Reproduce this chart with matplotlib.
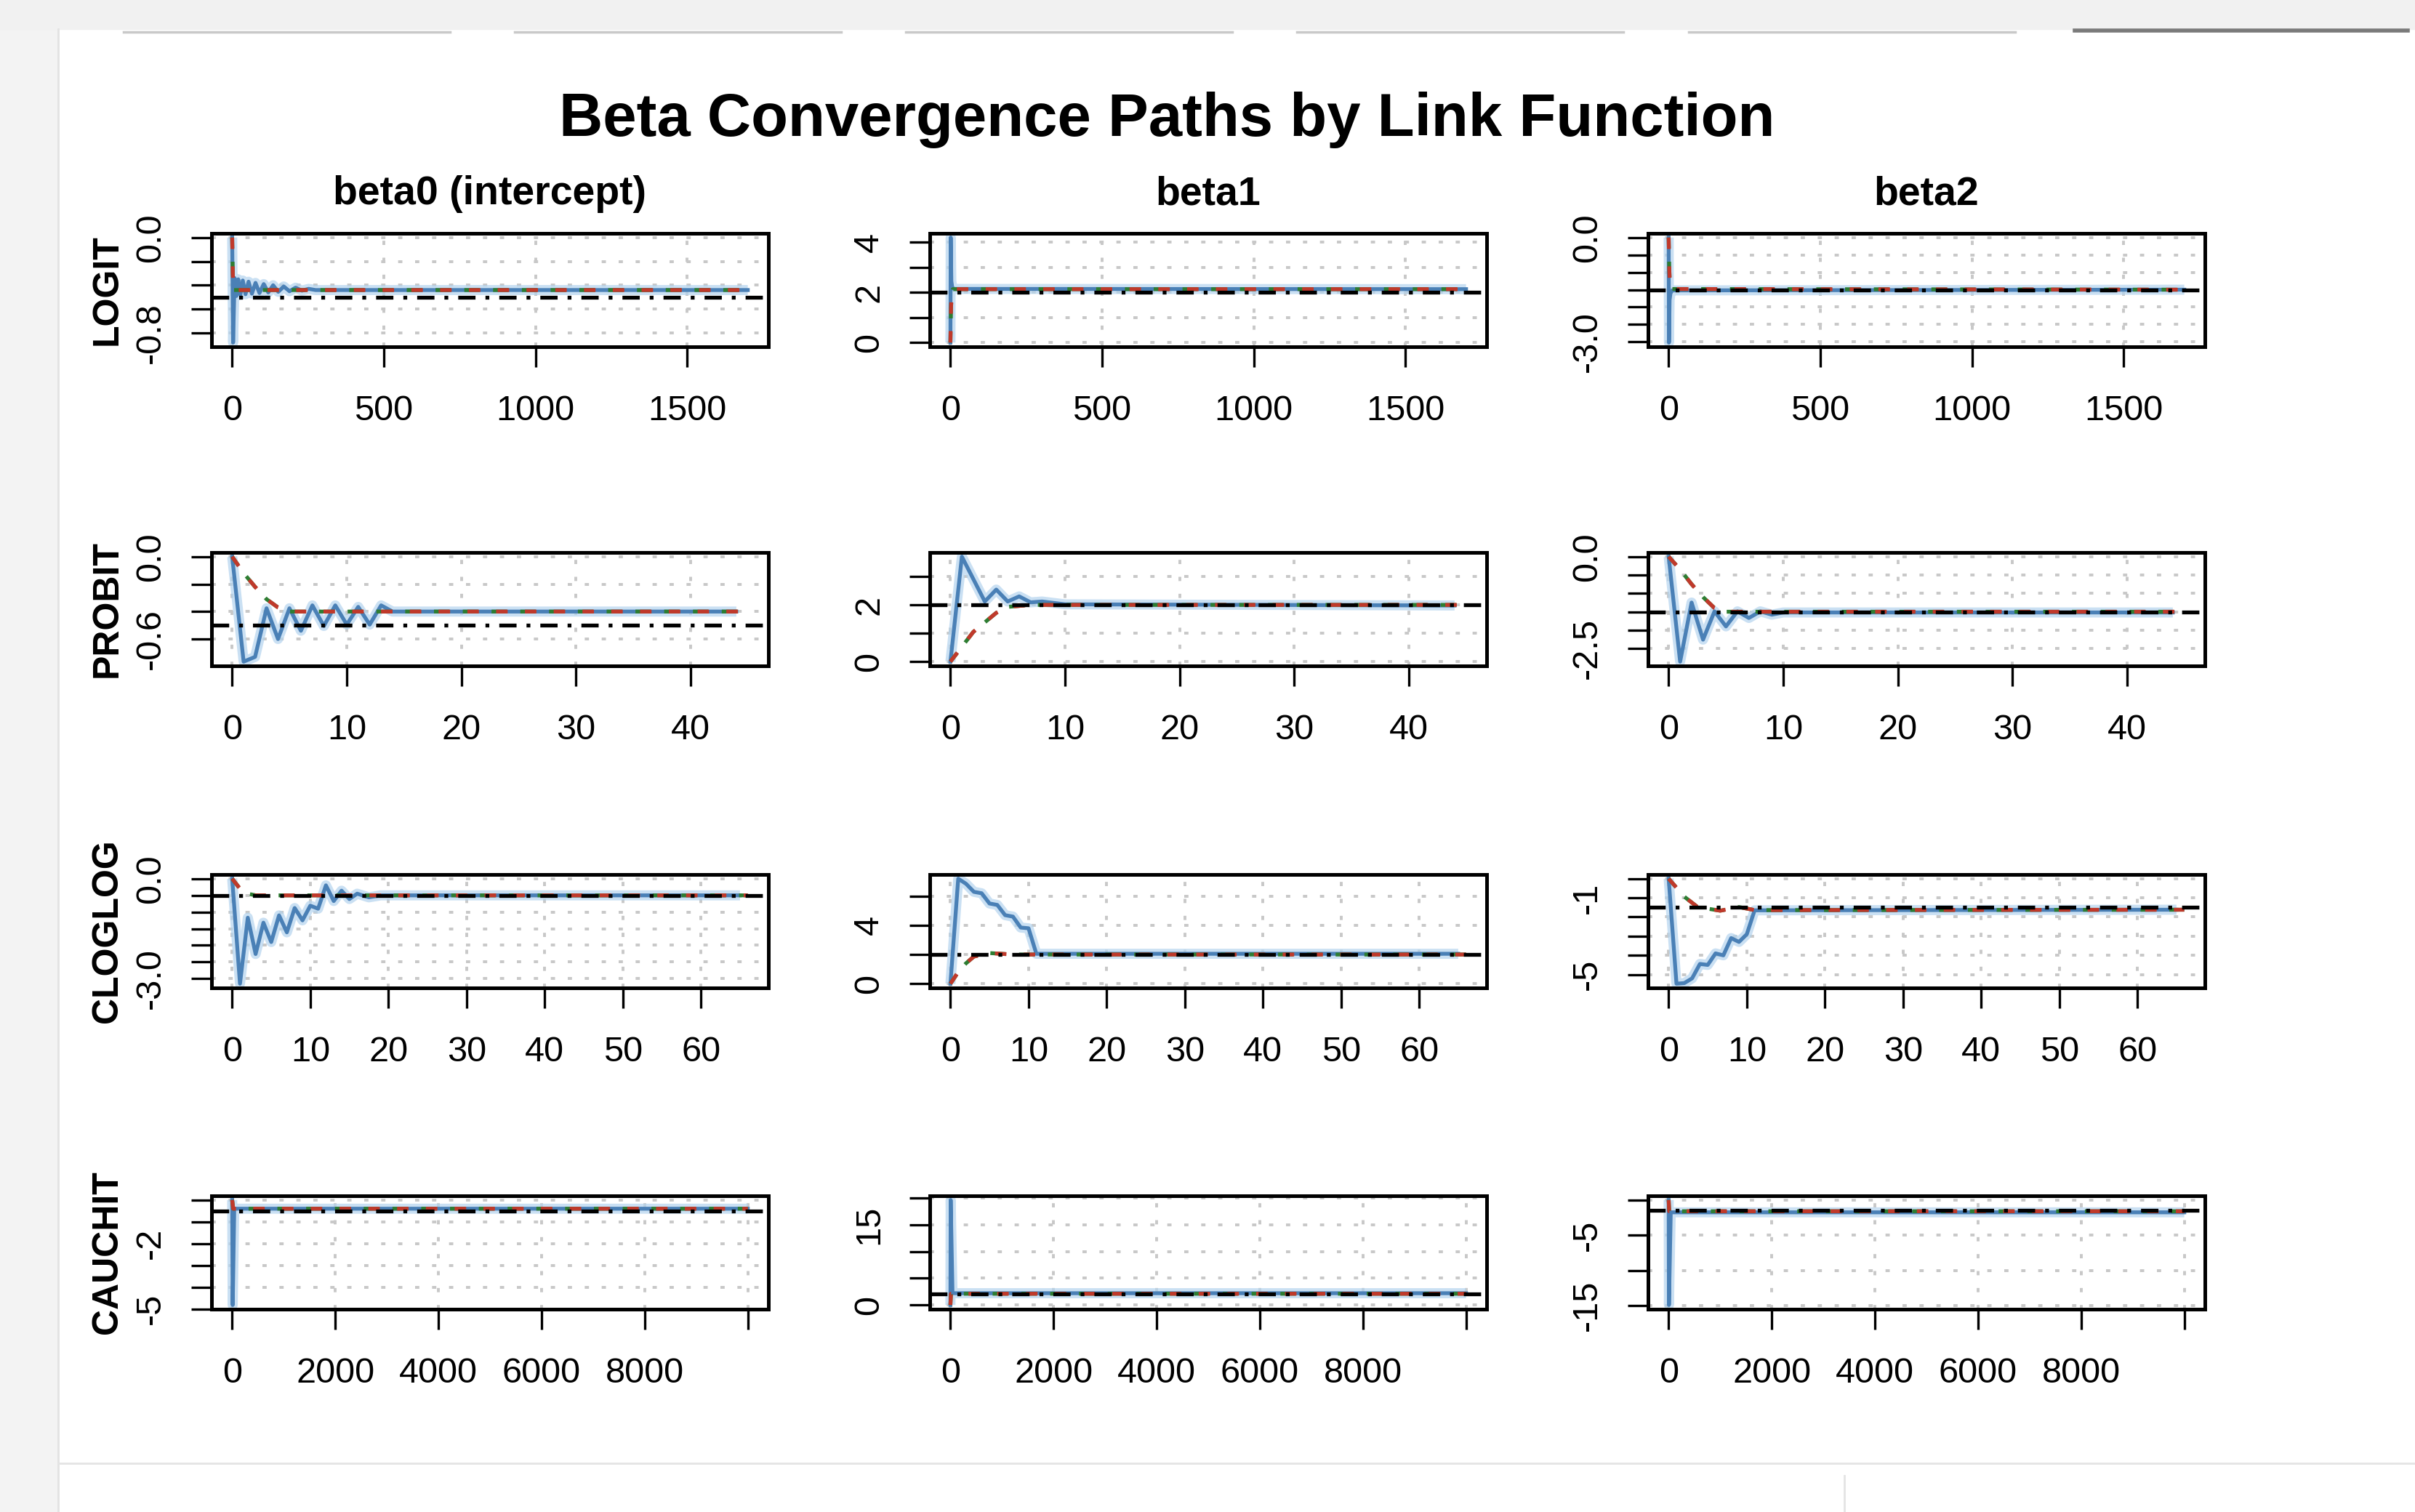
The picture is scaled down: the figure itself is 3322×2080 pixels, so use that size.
import matplotlib
matplotlib.use("Agg")
import matplotlib.pyplot as plt
from matplotlib.lines import Line2D
from matplotlib.patches import Rectangle

plt.rcParams['font.family'] = ['Liberation Sans', 'DejaVu Sans']

# ---- data (x = iteration) ----
links = ["LOGIT", "PROBIT", "CLOGLOG", "CAUCHIT"]
params = ["beta0 (intercept)", "beta1", "beta2"]
true_beta = [-0.5, 2.0, -1.5]

# LOGIT
logit_b0_gd_x = [0, 3, 8, 14, 20, 27, 35, 44, 54, 65, 77, 90, 104, 119, 135, 152, 170, 189, 209, 230, 252, 275, 1700]
logit_b0_gd_y = [0.0, -0.88, -0.34, -0.49, -0.35, -0.48, -0.36, -0.475, -0.37, -0.47, -0.38, -0.465,
                 -0.39, -0.46, -0.40, -0.455, -0.41, -0.45, -0.42, -0.445, -0.43, -0.44, -0.44]
logit_b0_nr_x = [0, 2, 5, 1700]
logit_b0_nr_y = [0.0, -0.3, -0.44, -0.44]
logit_b1_gd_x = [0, 1, 3, 6, 12, 1700]
logit_b1_gd_y = [0.0, 4.19, 2.45, 2.2, 2.14, 2.13]
logit_b1_nr_x = [0, 2, 4, 8, 1700]
logit_b1_nr_y = [0.0, 1.4, 1.9, 2.13, 2.13]
logit_b2_gd_x = [0, 1, 3, 6, 12, 1700]
logit_b2_gd_y = [0.0, -3.02, -1.8, -1.6, -1.52, -1.5]
logit_b2_nr_x = [0, 2, 4, 8, 1700]
logit_b2_nr_y = [0.0, -0.9, -1.35, -1.48, -1.5]

# PROBIT
probit_b0_gd_x = [0, 1, 2, 3, 4, 5, 6, 7, 8, 9, 10, 11, 12, 13, 14, 44]
probit_b0_gd_y = [0.0, -0.765, -0.73, -0.376, -0.60, -0.376, -0.54, -0.355, -0.505, -0.355, -0.495,
                  -0.366, -0.495, -0.355, -0.40, -0.40]
probit_b0_nr_x = [0, 1, 2, 3, 4, 5, 45]
probit_b0_nr_y = [0.0, -0.12, -0.22, -0.31, -0.37, -0.40, -0.40]
probit_b1_gd_x = [0, 1, 3, 4, 5, 6, 7, 8, 10, 44]
probit_b1_gd_y = [0.0, 3.7, 2.12, 2.54, 2.12, 2.3, 2.09, 2.12, 2.02, 1.98]
probit_b1_nr_x = [0, 2, 4, 5, 7, 45]
probit_b1_nr_y = [0.0, 1.05, 1.72, 1.93, 2.0, 2.0]
probit_b2_gd_x = [0, 1, 2, 3, 4, 5, 6, 7, 8, 9, 10, 44]
probit_b2_gd_y = [0.0, -2.86, -1.25, -2.26, -1.49, -1.9, -1.49, -1.67, -1.49, -1.58, -1.52, -1.52]
probit_b2_nr_x = [0, 1, 2, 3, 4, 5, 45]
probit_b2_nr_y = [0.0, -0.35, -0.75, -1.1, -1.4, -1.5, -1.5]

# CLOGLOG
cloglog_b0_gd_x = [0, 1, 2, 3, 4, 5, 6, 7, 8, 9, 10, 11, 12, 13, 14, 15, 16, 17.5, 19, 65]
cloglog_b0_gd_y = [0.0, -3.15, -1.17, -2.26, -1.32, -1.9, -1.1, -1.61, -0.88, -1.25, -0.81, -0.9,
                   -0.2, -0.67, -0.36, -0.61, -0.45, -0.56, -0.5, -0.5]
cloglog_b0_nr_x = [0, 1, 2, 3, 66]
cloglog_b0_nr_y = [0.0, -0.3, -0.45, -0.5, -0.5]
cloglog_b1_gd_x = [0, 1, 2, 3, 4, 5, 6, 7, 8, 9, 10, 11, 65]
cloglog_b1_gd_y = [0.0, 7.2, 6.85, 6.3, 6.2, 5.5, 5.4, 4.7, 4.6, 3.85, 3.8, 2.05, 2.05]
cloglog_b1_nr_x = [0, 1, 2, 3, 5, 8, 66]
cloglog_b1_nr_y = [0.0, 0.8, 1.4, 1.86, 2.1, 2.0, 2.0]
cloglog_b2_gd_x = [0, 1, 2, 3, 4, 5, 6, 7, 8, 9, 10, 11, 65]
cloglog_b2_gd_y = [0.0, -5.48, -5.45, -5.2, -4.45, -4.5, -3.9, -4.0, -3.1, -3.3, -2.9, -1.65, -1.62]
cloglog_b2_nr_x = [0, 2, 3.7, 6.6, 9, 11, 66]
cloglog_b2_nr_y = [0.0, -0.94, -1.48, -1.67, -1.48, -1.64, -1.62]

# CAUCHIT
cauchit_b0_gd_x = [0, 10, 40, 10000]
cauchit_b0_gd_y = [0.0, -4.82, -0.4, -0.4]
cauchit_b0_nr_x = [0, 20, 10000]
cauchit_b0_nr_y = [0.0, -0.4, -0.4]
cauchit_b1_gd_x = [0, 5, 40, 10000]
cauchit_b1_gd_y = [0.0, 19.6, 2.2, 2.2]
cauchit_b1_nr_x = [0, 10, 10000]
cauchit_b1_nr_y = [0.0, 2.1, 2.1]
cauchit_b2_gd_x = [0, 5, 40, 10000]
cauchit_b2_gd_y = [0.0, -14.9, -1.75, -1.75]
cauchit_b2_nr_x = [0, 10, 10000]
cauchit_b2_nr_y = [0.0, -1.6, -1.6]

# axis ticks (R drops overlapping labels -> empty strings)
logit_xticks = [0, 500, 1000, 1500]
probit_xticks = [0, 10, 20, 30, 40]
cloglog_xticks = [0, 10, 20, 30, 40, 50, 60]
cauchit_xticks = [0, 2000, 4000, 6000, 8000, 10000]
cauchit_xlabels = ["0", "2000", "4000", "6000", "8000", ""]

yticks = {
    ("LOGIT", 0): ([0, -0.2, -0.4, -0.6, -0.8], ["0.0", "", "", "", "-0.8"]),
    ("LOGIT", 1): ([0, 1, 2, 3, 4], ["0", "", "2", "", "4"]),
    ("LOGIT", 2): ([0, -0.5, -1, -1.5, -2, -2.5, -3], ["0.0", "", "", "", "", "", "-3.0"]),
    ("PROBIT", 0): ([0, -0.2, -0.4, -0.6], ["0.0", "", "", "-0.6"]),
    ("PROBIT", 1): ([0, 1, 2, 3], ["0", "", "2", ""]),
    ("PROBIT", 2): ([0, -0.5, -1, -1.5, -2, -2.5], ["0.0", "", "", "", "", "-2.5"]),
    ("CLOGLOG", 0): ([0, -0.5, -1, -1.5, -2, -2.5, -3], ["0.0", "", "", "", "", "", "-3.0"]),
    ("CLOGLOG", 1): ([0, 2, 4, 6], ["0", "", "4", ""]),
    ("CLOGLOG", 2): ([0, -1, -2, -3, -4, -5], ["", "-1", "", "", "", "-5"]),
    ("CAUCHIT", 0): ([0, -1, -2, -3, -4, -5], ["", "", "-2", "", "", "-5"]),
    ("CAUCHIT", 1): ([0, 5, 10, 15, 20], ["0", "", "", "15", ""]),
    ("CAUCHIT", 2): ([0, -5, -10, -15], ["", "-5", "", "-15"]),
}

paths = {
    "LOGIT": [(logit_b0_gd_x, logit_b0_gd_y, logit_b0_nr_x, logit_b0_nr_y),
              (logit_b1_gd_x, logit_b1_gd_y, logit_b1_nr_x, logit_b1_nr_y),
              (logit_b2_gd_x, logit_b2_gd_y, logit_b2_nr_x, logit_b2_nr_y)],
    "PROBIT": [(probit_b0_gd_x, probit_b0_gd_y, probit_b0_nr_x, probit_b0_nr_y),
               (probit_b1_gd_x, probit_b1_gd_y, probit_b1_nr_x, probit_b1_nr_y),
               (probit_b2_gd_x, probit_b2_gd_y, probit_b2_nr_x, probit_b2_nr_y)],
    "CLOGLOG": [(cloglog_b0_gd_x, cloglog_b0_gd_y, cloglog_b0_nr_x, cloglog_b0_nr_y),
                (cloglog_b1_gd_x, cloglog_b1_gd_y, cloglog_b1_nr_x, cloglog_b1_nr_y),
                (cloglog_b2_gd_x, cloglog_b2_gd_y, cloglog_b2_nr_x, cloglog_b2_nr_y)],
    "CAUCHIT": [(cauchit_b0_gd_x, cauchit_b0_gd_y, cauchit_b0_nr_x, cauchit_b0_nr_y),
                (cauchit_b1_gd_x, cauchit_b1_gd_y, cauchit_b1_nr_x, cauchit_b1_nr_y),
                (cauchit_b2_gd_x, cauchit_b2_gd_y, cauchit_b2_nr_x, cauchit_b2_nr_y)],
}
xticks = {"LOGIT": (logit_xticks, [str(t) for t in logit_xticks]),
          "PROBIT": (probit_xticks, [str(t) for t in probit_xticks]),
          "CLOGLOG": (cloglog_xticks, [str(t) for t in cloglog_xticks]),
          "CAUCHIT": (cauchit_xticks, cauchit_xlabels)}

# ---- figure ----
W, H = 3323, 2080
fig = plt.figure(figsize=(W / 100, H / 100), dpi=100, facecolor="white")

# screenshot chrome around the R device
fig.add_artist(Rectangle((0, 0), 80 / W, 1, transform=fig.transFigure, color="#f3f3f3", zorder=0))
fig.add_artist(Rectangle((0, 1 - 40 / H), 1, 40 / H, transform=fig.transFigure, color="#f1f1f1", zorder=0))
fig.add_artist(Line2D([80 / W, 80 / W], [0, 1 - 40 / H], transform=fig.transFigure, color="#e2e2e2", lw=2))
fig.add_artist(Line2D([80 / W, 1], [1 - 2013 / H] * 2, transform=fig.transFigure, color="#e4e4e4", lw=2))
fig.add_artist(Line2D([2537 / W] * 2, [0, 1 - 2030 / H], transform=fig.transFigure, color="#e4e4e4", lw=2))
for x0, x1 in [(170, 619), (708, 1157), (1246, 1695), (1784, 2233), (2323, 2772)]:
    fig.add_artist(Line2D([x0 / W, x1 / W], [1 - 44 / H] * 2, transform=fig.transFigure, color="#c9c9c9", lw=2.5))
fig.add_artist(Line2D([2854 / W, 3312 / W], [1 - 42 / H] * 2, transform=fig.transFigure, color="#7a7a7a", lw=4))

col_left = [291, 1279, 2267]
col_w = 766
row_top = [321, 760, 1203, 1645]
row_h = 156

for i, link in enumerate(links):
    for j in range(3):
        ax = fig.add_axes([col_left[j] / W, 1 - (row_top[i] + row_h) / H, col_w / W, row_h / H])
        gx, gy, nx, ny = paths[link][j]
        ax.plot(gx, gy, color="#b4d4ee", lw=10, alpha=0.7, solid_capstyle="butt", zorder=2)
        ax.plot(gx, gy, color="#4a80b6", lw=3.8, zorder=3)
        ax.plot(nx, ny, color="#2e7d32", lw=3.8, linestyle=(1.2, (4, 3.5)), zorder=4)
        ax.plot(nx, ny, color="#c0392b", lw=3.8, linestyle=(0, (3, 4.5)), zorder=4)
        ax.margins(0.04)
        ax.axhline(true_beta[j], color="black", lw=3.8, linestyle=(0, (4.5, 2.6, 1, 2.6)), zorder=5)

        yt, yl = yticks[(link, j)]
        ax.set_yticks(yt, yl, rotation=90, va="center", ha="center")
        xt, xl = xticks[link]
        ax.set_xticks(xt, xl, va="center")
        ax.tick_params(axis="x", length=20, width=2.4, pad=44, labelsize=35, direction="out")
        ax.tick_params(axis="y", length=20, width=2.4, pad=40, labelsize=35, direction="out")
        ax.grid(True, color="#c8c8c8", linestyle=(0, (1.5, 4.5)), linewidth=2.8)
        ax.set_axisbelow(True)
        for s in ax.spines.values():
            s.set_linewidth(3.6)

        if i == 0:
            fig.text((col_left[j] + col_w / 2) / W, 1 - 267 / H, params[j],
                     ha="center", va="center", fontsize=40, fontweight="bold")
    fig.text(148 / W, 1 - (row_top[i] + row_h / 2) / H, link, rotation=90,
             ha="center", va="center", fontsize=36, fontweight="bold")

fig.text(1605 / W, 1 - 165 / H, "Beta Convergence Paths by Link Function",
         ha="center", va="center", fontsize=60, fontweight="bold")

fig.savefig("out.png", dpi=100, facecolor=fig.get_facecolor())
